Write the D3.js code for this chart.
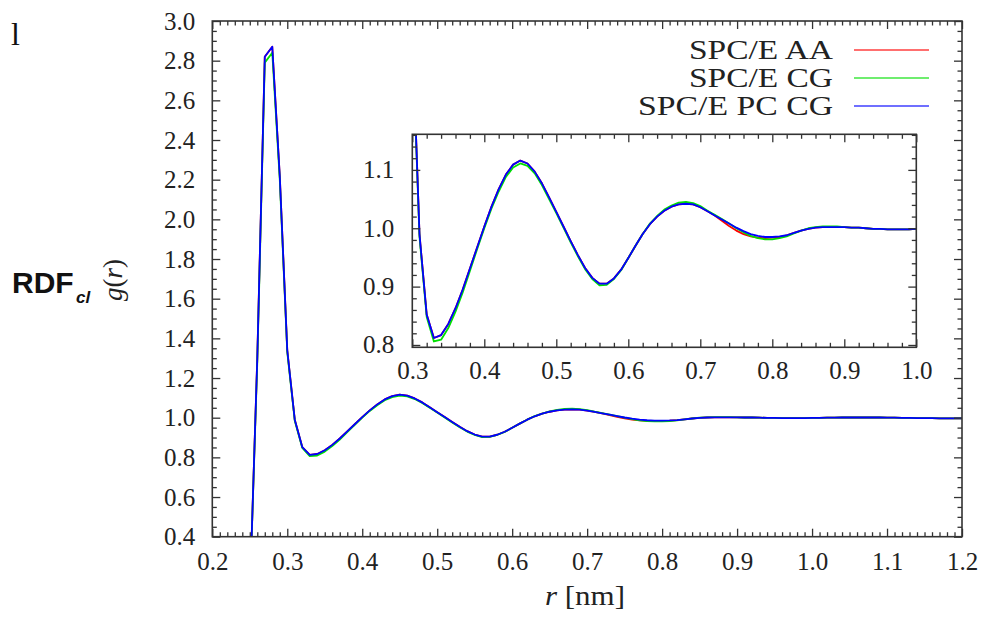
<!DOCTYPE html>
<html>
<head>
<meta charset="utf-8">
<script src="https://cdn.jsdelivr.net/npm/d3@7"></script>
<style>
  html, body { margin: 0; padding: 0; background: #fff; }
  svg { display: block; }
  .tick line { stroke: #333; stroke-width: 1.3; }
</style>
</head>
<body>
<svg id="chart" width="982" height="621"></svg>
<script>
// Radial distribution function g(r) of Cl for three water models
const rValues = [0.25,0.26,0.27,0.28,0.29,0.30,0.31,0.32,0.33,0.34,0.35,0.36,0.37,0.38,0.39,
  0.40,0.41,0.42,0.43,0.44,0.45,0.46,0.47,0.48,0.49,0.50,0.51,0.52,0.53,0.54,0.55,0.56,0.57,0.58,0.59,
  0.60,0.61,0.62,0.63,0.64,0.65,0.66,0.67,0.68,0.69,0.70,0.71,0.72,0.73,0.74,0.75,0.76,0.77,0.78,0.79,
  0.80,0.81,0.82,0.83,0.84,0.85,0.86,0.87,0.88,0.89,0.90,0.91,0.92,0.93,0.94,0.95,0.96,0.97,0.98,0.99,
  1.00,1.01,1.02,1.03,1.04,1.05,1.06,1.07,1.08,1.09,1.10,1.11,1.12,1.13,1.14,1.15,1.16,1.17,1.18,1.19,1.20];

const spceAA = [0.10,1.30,2.82,2.87,2.22,1.34,0.99,0.852,0.812,0.817,0.836,0.863,0.895,0.931,0.967,
  1.003,1.037,1.067,1.092,1.109,1.116,1.111,1.097,1.077,1.053,1.028,1.003,0.978,0.954,0.932,0.915,0.905,0.905,0.914,0.929,
  0.949,0.970,0.990,1.007,1.020,1.030,1.037,1.041,1.042,1.041,1.036,1.029,1.022,1.013,1.004,0.996,0.990,0.986,0.984,0.983,
  0.984,0.985,0.988,0.992,0.996,0.999,1.001,1.002,1.002,1.002,1.002,1.001,1.001,1.000,0.999,0.999,0.998,0.998,0.998,0.998,
  0.999,0.999,1.000,1.000,1.001,1.001,1.001,1.001,1.001,1.001,1.000,1.000,0.999,0.999,0.998,0.998,0.998,0.997,0.997,0.997,0.997];

const spceCG = [0.10,1.28,2.79,2.84,2.20,1.33,0.985,0.848,0.806,0.809,0.829,0.857,0.890,0.927,0.964,
  1.000,1.034,1.063,1.088,1.104,1.111,1.107,1.094,1.074,1.050,1.026,1.001,0.976,0.952,0.930,0.913,0.902,0.903,0.913,0.928,
  0.949,0.970,0.990,1.008,1.021,1.032,1.039,1.044,1.045,1.043,1.038,1.030,1.023,1.016,1.008,1.000,0.993,0.987,0.983,0.981,
  0.981,0.983,0.986,0.991,0.996,1.000,1.002,1.003,1.003,1.003,1.002,1.001,1.001,1.000,0.999,0.999,0.998,0.998,0.998,0.998,
  0.999,0.999,1.000,1.000,1.001,1.001,1.001,1.001,1.001,1.001,1.000,1.000,0.999,0.999,0.998,0.998,0.998,0.997,0.997,0.997,0.997];

const spcePCCG = [0.10,1.30,2.82,2.87,2.22,1.34,0.99,0.852,0.812,0.817,0.836,0.863,0.895,0.931,0.967,
  1.003,1.037,1.067,1.092,1.109,1.116,1.111,1.097,1.077,1.053,1.028,1.003,0.978,0.954,0.932,0.915,0.905,0.905,0.914,0.929,
  0.949,0.970,0.990,1.007,1.020,1.030,1.037,1.041,1.042,1.041,1.036,1.029,1.022,1.015,1.008,1.001,0.995,0.990,0.987,0.985,
  0.985,0.986,0.988,0.992,0.996,0.999,1.001,1.002,1.002,1.002,1.002,1.001,1.001,1.000,0.999,0.999,0.998,0.998,0.998,0.998,
  0.999,0.999,1.000,1.000,1.001,1.001,1.001,1.001,1.001,1.001,1.000,1.000,0.999,0.999,0.998,0.998,0.998,0.997,0.997,0.997,0.997];

const seriesNames = ["SPC/E AA", "SPC/E CG", "SPC/E PC CG"];
const seriesColors = ["#ff0000", "#00e000", "#0000ff"];
const seriesValues = [spceAA, spceCG, spcePCCG];

const mainXTicks = [0.2,0.3,0.4,0.5,0.6,0.7,0.8,0.9,1.0,1.1,1.2];
const mainYTicks = [0.4,0.6,0.8,1.0,1.2,1.4,1.6,1.8,2.0,2.2,2.4,2.6,2.8,3.0];
const insetXTicks = [0.3,0.4,0.5,0.6,0.7,0.8,0.9,1.0];
const insetYTicks = [0.8,0.9,1.0,1.1];

const SERIF = "'Liberation Serif', 'Times New Roman', serif";
const SANS = "'Liberation Sans', Arial, sans-serif";

const svg = d3.select("#chart");
const fmt1 = d3.format(".1f");

// ---- main panel geometry
const M = { left: 212.3, right: 962, top: 21, bottom: 536.7 };
const x = d3.scaleLinear().domain([0.2, 1.2]).range([M.left, M.right]);
const y = d3.scaleLinear().domain([0.4, 3.0]).range([M.bottom, M.top]);

// ---- inset geometry
const I = { left: 412.3, right: 916.3, top: 134.3, bottom: 347.3 };
const xi = d3.scaleLinear().domain([0.3, 1.0]).range([I.left, I.right]);
const yi = d3.scaleLinear().domain([0.796, 1.161]).range([I.bottom, I.top]);

const rows = seriesValues.map(vals => rValues.map((r, i) => ({ r, g: vals[i] })));

function minorValues(lo, hi, step) {
  const out = [];
  const n = Math.round((hi - lo) / step);
  for (let i = 0; i <= n; i++) out.push(+(lo + i * step).toFixed(4));
  return out;
}

// Framed panel with inward ticks on all four sides
function drawFrame(g, xs, ys, box, xMajor, yMajor, xMinorStep, yMinorStep, padX, padY) {
  const xMin = minorValues(xs.domain()[0], xs.domain()[1], xMinorStep)
    .filter(v => !xMajor.some(m => Math.abs(m - v) < 1e-6));
  const yd = ys.domain();
  const yMin = minorValues(Math.ceil(yd[0] / yMinorStep - 1e-6) * yMinorStep, yd[1], yMinorStep)
    .filter(v => v <= yd[1] + 1e-9 && !yMajor.some(m => Math.abs(m - v) < 1e-6));
  const major = 8, minor = 4.5;

  const layers = [
    [d3.axisBottom(xs).tickValues(xMajor).tickSizeInner(-major).tickSizeOuter(0).tickPadding(padX).tickFormat(fmt1), `translate(0,${box.bottom})`],
    [d3.axisBottom(xs).tickValues(xMin).tickSizeInner(-minor).tickSizeOuter(0).tickFormat(""), `translate(0,${box.bottom})`],
    [d3.axisTop(xs).tickValues(xMajor).tickSizeInner(-major).tickSizeOuter(0).tickFormat(""), `translate(0,${box.top})`],
    [d3.axisTop(xs).tickValues(xMin).tickSizeInner(-minor).tickSizeOuter(0).tickFormat(""), `translate(0,${box.top})`],
    [d3.axisLeft(ys).tickValues(yMajor).tickSizeInner(-major).tickSizeOuter(0).tickPadding(padY).tickFormat(fmt1), `translate(${box.left},0)`],
    [d3.axisLeft(ys).tickValues(yMin).tickSizeInner(-minor).tickSizeOuter(0).tickFormat(""), `translate(${box.left},0)`],
    [d3.axisRight(ys).tickValues(yMajor).tickSizeInner(-major).tickSizeOuter(0).tickFormat(""), `translate(${box.right},0)`],
    [d3.axisRight(ys).tickValues(yMin).tickSizeInner(-minor).tickSizeOuter(0).tickFormat(""), `translate(${box.right},0)`]
  ];
  layers.forEach(([ax, tr]) => {
    const a = g.append("g").attr("transform", tr).call(ax)
      .attr("font-family", SERIF).attr("font-size", 25);
    a.select(".domain").remove();
    a.selectAll("text")
      .attr("fill", "#222")
      .attr("font-family", SERIF)
      .attr("font-size", 25);
  });
  g.append("rect")
    .attr("x", box.left).attr("y", box.top)
    .attr("width", box.right - box.left).attr("height", box.bottom - box.top)
    .attr("fill", "none").attr("stroke", "#333").attr("stroke-width", 1.6);
}

function drawCurves(g, xs, ys, box, id) {
  svg.append("defs").append("clipPath").attr("id", id)
    .append("rect").attr("x", box.left).attr("y", box.top)
    .attr("width", box.right - box.left).attr("height", box.bottom - box.top);
  const line = d3.line().x(d => xs(d.r)).y(d => ys(d.g));
  g.append("g").attr("clip-path", `url(#${id})`)
    .selectAll("path").data(rows).join("path")
    .attr("d", line)
    .attr("fill", "none")
    .attr("stroke", (d, i) => seriesColors[i])
    .attr("stroke-width", 1.8)
    .attr("stroke-linejoin", "round");
}

// main panel
const mainG = svg.append("g");
drawCurves(mainG, x, y, M, "clipMain");
drawFrame(mainG, x, y, M, mainXTicks, mainYTicks, 0.01, 0.05, 15.5, 17);

// legend
const legend = svg.append("g");
seriesNames.forEach((name, i) => {
  const yy = 50 + i * 28;
  legend.append("text")
    .attr("x", 833).attr("y", yy + 9)
    .attr("text-anchor", "end")
    .attr("font-family", SERIF)
    .attr("font-size", 28)
    .attr("fill", "#222")
    .attr("textLength", [144, 144, 195][i])
    .attr("lengthAdjust", "spacingAndGlyphs")
    .text(name);
  legend.append("line")
    .attr("x1", 854).attr("x2", 929).attr("y1", yy).attr("y2", yy)
    .attr("stroke", seriesColors[i]).attr("stroke-width", 1.6).attr("opacity", 0.75);
});

// inset panel
const insetG = svg.append("g");
insetG.append("rect")
  .attr("x", I.left).attr("y", I.top)
  .attr("width", I.right - I.left).attr("height", I.bottom - I.top)
  .attr("fill", "#fff");
drawCurves(insetG, xi, yi, I, "clipInset");
drawFrame(insetG, xi, yi, I, insetXTicks, insetYTicks, 0.02, 0.02, 14, 18);

// axis titles
svg.append("text")
  .attr("x", 585).attr("y", 605)
  .attr("text-anchor", "middle")
  .attr("font-family", SERIF)
  .attr("font-size", 27)
  .attr("fill", "#222")
  .attr("textLength", 80)
  .attr("lengthAdjust", "spacingAndGlyphs")
  .call(t => {
    t.append("tspan").attr("font-style", "italic").text("r");
    t.append("tspan").text(" [nm]");
  });

svg.append("text")
  .attr("transform", "translate(122,280) rotate(-90)")
  .attr("text-anchor", "middle")
  .attr("font-family", SERIF)
  .attr("font-size", 27)
  .attr("fill", "#222")
  .call(t => {
    t.append("tspan").attr("font-style", "italic").text("g");
    t.append("tspan").text("(");
    t.append("tspan").attr("font-style", "italic").text("r");
    t.append("tspan").text(")");
  });

// panel label
svg.append("text")
  .attr("x", 12).attr("y", 293)
  .attr("font-family", SANS)
  .attr("font-weight", "bold")
  .attr("font-size", 30)
  .attr("fill", "#111")
  .text("RDF");
svg.append("text")
  .attr("x", 76).attr("y", 303)
  .attr("font-family", SANS)
  .attr("font-weight", "bold")
  .attr("font-style", "italic")
  .attr("font-size", 17)
  .attr("fill", "#111")
  .text("cl");

svg.append("text")
  .attr("x", 11).attr("y", 45)
  .attr("font-family", SERIF)
  .attr("font-size", 32)
  .attr("fill", "#111")
  .text("l");
</script>
</body>
</html>
